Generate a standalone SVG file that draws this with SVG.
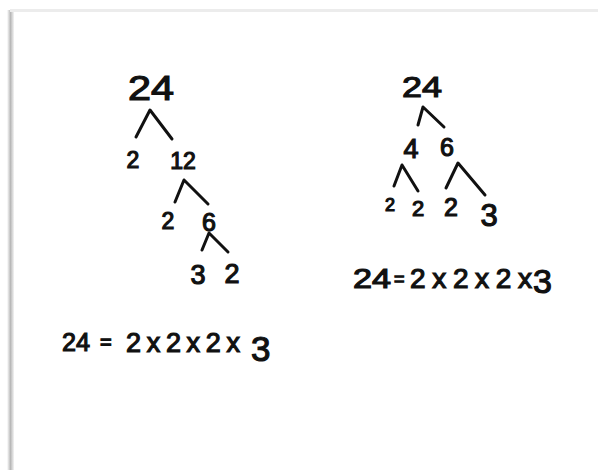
<svg xmlns="http://www.w3.org/2000/svg" width="598" height="470" viewBox="0 0 598 470">
<style>
text{font-family:"Liberation Sans","DejaVu Sans",sans-serif;fill:#111;stroke:#111;stroke-width:1.2;text-anchor:middle}
.eq text{text-anchor:start}
.c path{fill:none;stroke:#111;stroke-width:3;stroke-linecap:round;stroke-linejoin:round}
</style>
<defs>
<linearGradient id="sh" x1="0" y1="0" x2="1" y2="0">
<stop offset="0" stop-color="#fff"/>
<stop offset="0.5" stop-color="#b8b8b8"/>
<stop offset="1" stop-color="#f4f4f4"/>
</linearGradient>
</defs>
<rect width="598" height="470" fill="#fff"/>
<rect x="7" y="10" width="7" height="460" fill="url(#sh)"/>
<rect x="10" y="9" width="588" height="3" fill="#ececec"/>
<g class="c" id="connectors">
<path d="M136 137 L150 110 L172 139"/>
<path d="M175 202 L184 180 L208 204"/>
<path d="M202 250 L209 233 L228 252"/>
<path d="M418 125 L423 107 L444 127"/>
<path d="M394 186 L402 165 L418 191"/>
<path d="M446 188 L458 163 L485 195"/>
</g>
<g id="L24"><text x="151" y="100" font-size="35" textLength="46" lengthAdjust="spacingAndGlyphs">24</text></g>
<g id="L2a"><text x="133" y="168" font-size="23">2</text></g>
<g id="L12"><text x="183" y="169" font-size="23">12</text></g>
<g id="L2b"><text x="168" y="229" font-size="23">2</text></g>
<g id="L6"><text x="209" y="231" font-size="25">6</text></g>
<g id="L3"><text x="198" y="284" font-size="27">3</text></g>
<g id="L2c"><text x="232" y="283" font-size="27">2</text></g>
<g id="R24"><text x="422" y="97" font-size="30" textLength="40" lengthAdjust="spacingAndGlyphs">24</text></g>
<g id="R4"><text x="411" y="158" font-size="27">4</text></g>
<g id="R6"><text x="447" y="156" font-size="25">6</text></g>
<g id="R2a"><text x="390" y="211" font-size="18">2</text></g>
<g id="R2b"><text x="418" y="216" font-size="22">2</text></g>
<g id="R2c"><text x="451" y="216" font-size="25">2</text></g>
<g id="R3"><text x="489" y="226" font-size="31">3</text></g>
<g id="Leq" class="eq">
<text x="62" y="351" font-size="26" textLength="28" lengthAdjust="spacingAndGlyphs">24</text>
<text x="100" y="349" font-size="20">=</text>
<text x="126" y="352" font-size="27" textLength="114" lengthAdjust="spacing">2x2x2x</text>
<text x="251" y="361" font-size="35">3</text>
</g>
<g id="Req" class="eq">
<text x="353" y="288" font-size="28" textLength="38" lengthAdjust="spacingAndGlyphs">24</text>
<text x="394" y="285" font-size="18">=</text>
<text x="410" y="288" font-size="28" textLength="122" lengthAdjust="spacing">2x2x2x</text>
<text x="533" y="293" font-size="34">3</text>
</g>
</svg>
